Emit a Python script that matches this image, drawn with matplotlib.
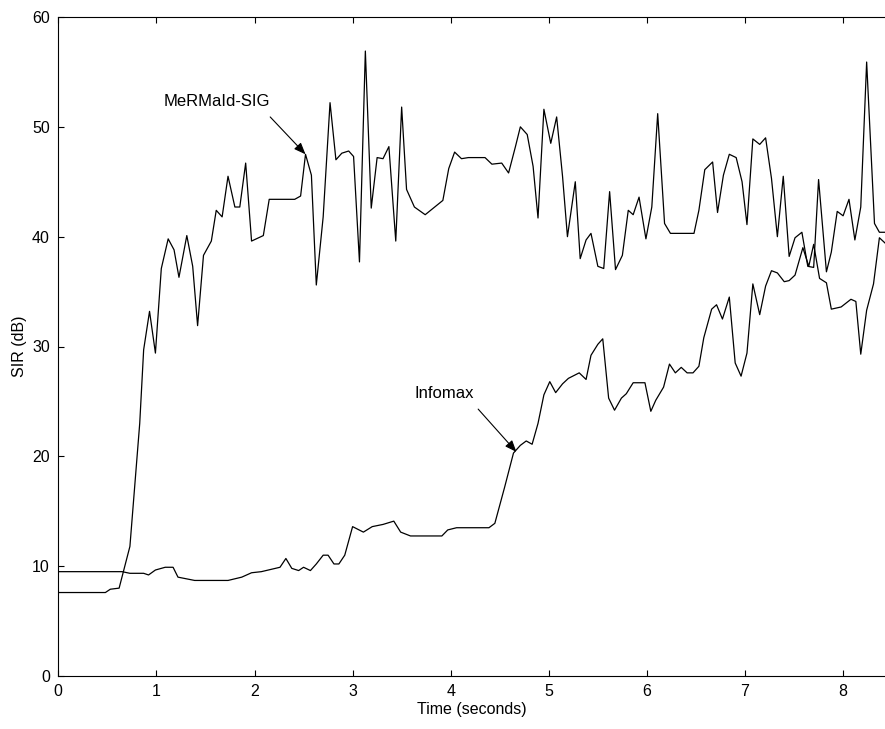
import matplotlib
matplotlib.use("Agg")
import matplotlib.pyplot as plt

plt.rcParams['font.family'] = ['Liberation Sans', 'DejaVu Sans']

# MeRMaId-SIG series (time in seconds, SIR in dB)
mermaid_t = [0, 0.48, 0.53, 0.62, 0.73, 0.83, 0.87, 0.93, 0.99, 1.05,
             1.12, 1.18, 1.23, 1.31, 1.37, 1.42, 1.48, 1.56, 1.61, 1.67,
             1.73, 1.80, 1.85, 1.91, 1.97, 2.09, 2.15, 2.41, 2.47, 2.52,
             2.58, 2.63, 2.70, 2.77, 2.83, 2.89, 2.96, 3.01, 3.07, 3.13,
             3.19, 3.25, 3.31, 3.37, 3.44, 3.50, 3.55, 3.63, 3.74, 3.92,
             3.98, 4.04, 4.11, 4.18, 4.35, 4.42, 4.52, 4.59, 4.66, 4.71,
             4.78, 4.84, 4.89, 4.95, 5.02, 5.08, 5.14, 5.19, 5.27, 5.32,
             5.38, 5.43, 5.50, 5.56, 5.62, 5.68, 5.75, 5.81, 5.86, 5.92,
             5.99, 6.05, 6.11, 6.18, 6.24, 6.48, 6.53, 6.59, 6.67, 6.72,
             6.78, 6.84, 6.91, 6.97, 7.02, 7.08, 7.15, 7.21, 7.27, 7.33,
             7.39, 7.45, 7.51, 7.58, 7.64, 7.70, 7.75, 7.83, 7.88, 7.94,
             8.00, 8.06, 8.12, 8.18, 8.24, 8.32, 8.37, 8.43]
mermaid_v = [7.6, 7.6, 7.9, 8.0, 11.8, 23.0, 29.7, 33.2, 29.4, 37.1,
             39.8, 38.8, 36.3, 40.1, 37.3, 31.9, 38.3, 39.6, 42.4, 41.8,
             45.5, 42.7, 42.7, 46.7, 39.6, 40.1, 43.4, 43.4, 43.7, 47.5,
             45.6, 35.6, 41.8, 52.2, 47.0, 47.6, 47.8, 47.3, 37.7, 56.9,
             42.6, 47.2, 47.1, 48.2, 39.6, 51.8, 44.3, 42.7, 42.0, 43.3,
             46.2, 47.7, 47.1, 47.2, 47.2, 46.6, 46.7, 45.8, 48.2, 50.0,
             49.3, 46.4, 41.7, 51.6, 48.5, 50.9, 45.5, 40.0, 45.0, 38.0,
             39.7, 40.3, 37.3, 37.1, 44.1, 37.0, 38.3, 42.4, 42.0, 43.6,
             39.8, 42.7, 51.2, 41.2, 40.3, 40.3, 42.4, 46.1, 46.8, 42.2,
             45.6, 47.5, 47.2, 45.0, 41.1, 48.9, 48.4, 49.0, 45.3, 40.0,
             45.5, 38.2, 39.9, 40.4, 37.3, 37.2, 45.2, 36.8, 38.6, 42.3,
             41.9, 43.4, 39.7, 42.7, 55.9, 41.2, 40.4, 40.4]

# Infomax series
infomax_t = [0, 0.65, 0.73, 0.87, 0.92, 0.99, 1.09, 1.17, 1.22, 1.39,
             1.73, 1.87, 1.97, 2.07, 2.26, 2.32, 2.38, 2.45, 2.50, 2.57,
             2.63, 2.70, 2.75, 2.81, 2.86, 2.92, 3.00, 3.11, 3.20, 3.31,
             3.42, 3.49, 3.59, 3.91, 3.97, 4.06, 4.39, 4.45, 4.55, 4.64,
             4.71, 4.77, 4.83, 4.89, 4.95, 5.01, 5.07, 5.14, 5.20, 5.31,
             5.38, 5.43, 5.50, 5.55, 5.61, 5.67, 5.74, 5.79, 5.86, 5.98,
             6.04, 6.09, 6.17, 6.23, 6.29, 6.35, 6.41, 6.47, 6.53, 6.58,
             6.66, 6.71, 6.77, 6.84, 6.90, 6.96, 7.02, 7.08, 7.15, 7.21,
             7.27, 7.33, 7.40, 7.45, 7.51, 7.59, 7.65, 7.70, 7.76, 7.83,
             7.88, 7.98, 8.08, 8.13, 8.18, 8.24, 8.31, 8.37, 8.43]
infomax_v = [9.5, 9.5, 9.35, 9.35, 9.2, 9.65, 9.9, 9.9, 9.0, 8.7,
             8.7, 9.0, 9.4, 9.5, 9.9, 10.7, 9.8, 9.6, 9.9, 9.6,
             10.2, 11.0, 11.0, 10.2, 10.2, 11.0, 13.6, 13.1, 13.6, 13.8,
             14.1, 13.1, 12.75, 12.75, 13.3, 13.5, 13.5, 13.9, 17.2, 20.3,
             21.0, 21.4, 21.1, 23.0, 25.6, 26.8, 25.8, 26.6, 27.1, 27.6,
             27.0, 29.2, 30.2, 30.7, 25.3, 24.2, 25.3, 25.7, 26.7, 26.7,
             24.1, 25.1, 26.3, 28.4, 27.6, 28.1, 27.6, 27.6, 28.2, 30.8,
             33.4, 33.8, 32.5, 34.5, 28.5, 27.3, 29.4, 35.7, 32.9, 35.5,
             36.9, 36.7, 35.9, 36.0, 36.5, 39.0, 37.3, 39.3, 36.2, 35.8,
             33.4, 33.6, 34.3, 34.1, 29.3, 33.3, 35.7, 39.9, 39.4]

x_ticks = [0, 1, 2, 3, 4, 5, 6, 7, 8]
y_ticks = [0, 10, 20, 30, 40, 50, 60]

fig = plt.figure(figsize=(8.85, 7.29), dpi=100)
ax = fig.add_axes([58.3 / 885, 1 - 676 / 729, (885 - 58.3) / 885, (676 - 17) / 729])

ax.plot(mermaid_t, mermaid_v, color='black', linewidth=0.9)
ax.plot(infomax_t, infomax_v, color='black', linewidth=0.9)

ax.set_xlim(0, (885 - 58.3) / 98.1)
ax.set_ylim(0, 60)
ax.set_xticks(x_ticks)
ax.set_yticks(y_ticks)
ax.tick_params(direction='in', length=4, width=0.8, labelsize=11.5,
               top=True, right=False, pad=6)
ax.spines['right'].set_visible(False)
for s in ['left', 'bottom', 'top']:
    ax.spines[s].set_linewidth(0.8)

ax.set_xlabel('Time (seconds)', fontsize=11.5, labelpad=2)
ax.set_ylabel('SIR (dB)', fontsize=11.5, labelpad=4)

arrow_style = dict(arrowstyle='-|>,head_length=0.7,head_width=0.28',
                   color='black', lw=0.8, shrinkA=0, shrinkB=0)

ax.text(1.62, 52.3, 'MeRMaId-SIG', fontsize=12, ha='center', va='center')
ax.annotate('', xy=(2.52, 47.5), xytext=(2.16, 50.9), arrowprops=arrow_style)

ax.text(3.93, 25.7, 'Infomax', fontsize=12, ha='center', va='center')
ax.annotate('', xy=(4.67, 20.4), xytext=(4.28, 24.3), arrowprops=arrow_style)

fig.savefig('out.png', dpi=100)
